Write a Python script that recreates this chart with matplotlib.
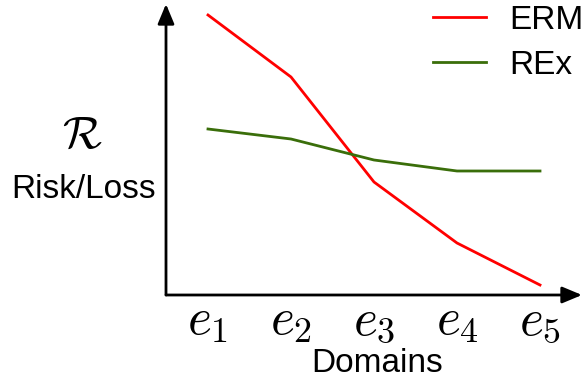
import matplotlib
matplotlib.use("Agg")
import matplotlib.pyplot as plt

plt.rcParams['font.family'] = ['Liberation Sans', 'DejaVu Sans']
plt.rcParams['mathtext.fontset'] = 'cm'

domains = [r'$e_1$', r'$e_2$', r'$e_3$', r'$e_4$', r'$e_5$']
x = [1, 2, 3, 4, 5]
erm = [280, 218, 113, 52, 10]
rex = [166, 156, 135, 124, 124]

fig = plt.figure(figsize=(5.84, 3.80), dpi=100)
ax = fig.add_axes([166 / 584, 85 / 380, 416 / 584, 291 / 380])

ax.plot(x, erm, color='#ff0000', lw=2, label='ERM')
ax.plot(x, rex, color='#3a6e0a', lw=2, label='REx')

ax.set_xlim(0.494, 5.506)
ax.set_ylim(0, 291)

for s in ax.spines.values():
    s.set_visible(False)

# axis arrows
arrow = dict(arrowstyle='-|>,head_length=1.2,head_width=0.5', color='black', lw=2,
             shrinkA=0, shrinkB=0)
ax.annotate('', xy=(0, 1.0), xytext=(0, 0), xycoords='axes fraction', arrowprops=arrow)
ax.annotate('', xy=(1.0, 0), xytext=(0, 0), xycoords='axes fraction', arrowprops=arrow)

ax.set_xticks(x)
ax.set_xticklabels(domains, fontsize=37)
ax.tick_params(axis='x', length=0, pad=1)
ax.set_yticks([])

fig.text(377 / 584, 1 - 363 / 380, 'Domains', fontsize=24, ha='center', va='center')
fig.text(82 / 584, 1 - 136 / 380, r'$\mathcal{R}$', fontsize=33, ha='center', va='center')
fig.text(84 / 584, 1 - 189 / 380, 'Risk/Loss', fontsize=24, ha='center', va='center')

ax.legend(loc='upper right', bbox_to_anchor=(1.0, 1 - 5 / 380), bbox_transform=fig.transFigure,
          frameon=False, fontsize=24, handlelength=1.6, handletextpad=0.7,
          labelspacing=0.42, borderpad=0.0, borderaxespad=0.0)

fig.savefig('out.png', dpi=100)
